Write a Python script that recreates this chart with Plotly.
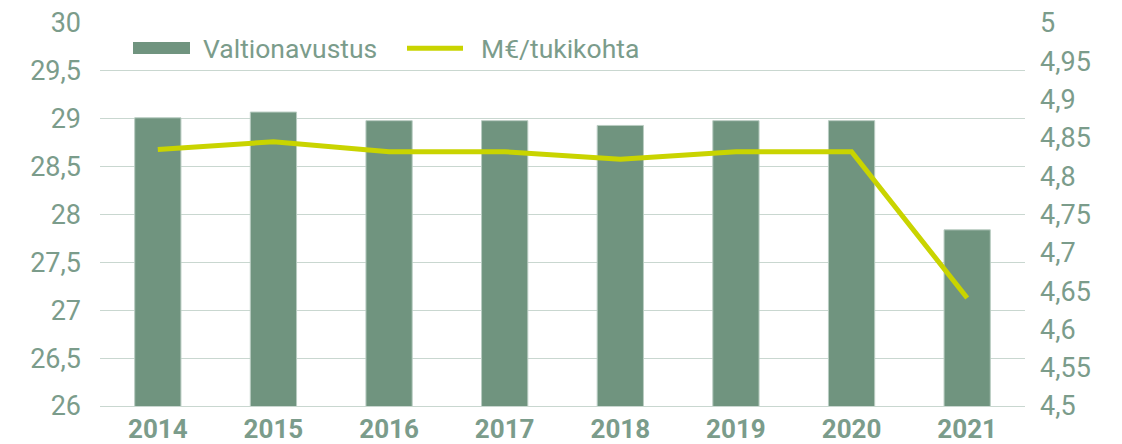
import plotly.graph_objects as go

years = ["2014", "2015", "2016", "2017", "2018", "2019", "2020", "2021"]
valtionavustus = [29.01, 29.07, 28.98, 28.98, 28.93, 28.98, 28.98, 27.84]
per_tukikohta = [4.835, 4.845, 4.832, 4.832, 4.822, 4.832, 4.832, 4.641]

left_ticks = [26, 26.5, 27, 27.5, 28, 28.5, 29, 29.5, 30]
left_labels = ["26", "26,5", "27", "27,5", "28", "28,5", "29", "29,5", "30"]
right_ticks = [4.5, 4.55, 4.6, 4.65, 4.7, 4.75, 4.8, 4.85, 4.9, 4.95, 5.0]
right_labels = ["4,5", "4,55", "4,6", "4,65", "4,7", "4,75", "4,8", "4,85", "4,9", "4,95", "5"]

bar_name = "Valtionavustus"
line_name = "M€/tukikohta"

W, H = 1122, 444
ML, MR, MT, MB = 100, 97, 23, 38
PW, PH = W - ML - MR, H - MT - MB

BAR_COLOR = "#70947F"
LINE_COLOR = "#C9D400"
TEXT_COLOR = "#7B9C8B"
GRID_COLOR = "#C9D7D0"
FONT = "Roboto"
TICK_SIZE = 27


def px_x(px):
    return (px - ML) / PW


def px_y(py):
    return (H - MB - py) / PH


fig = go.Figure()
fig.add_trace(go.Bar(
    x=years, y=valtionavustus, name=bar_name,
    marker=dict(color=BAR_COLOR, line=dict(color="#B9CCC2", width=1)),
    yaxis="y", showlegend=False,
))
fig.add_trace(go.Scatter(
    x=years, y=per_tukikohta, name=line_name, mode="lines",
    line=dict(color=LINE_COLOR, width=5),
    yaxis="y2", showlegend=False,
))

shapes = [
    dict(type="rect", xref="paper", yref="paper",
         x0=px_x(133), x1=px_x(190), y0=px_y(54), y1=px_y(42),
         fillcolor=BAR_COLOR, line=dict(width=0)),
    dict(type="line", xref="paper", yref="paper",
         x0=px_x(407), x1=px_x(463), y0=px_y(48.3), y1=px_y(48.3),
         line=dict(color=LINE_COLOR, width=5)),
]
annotations = [
    dict(text=bar_name, xref="paper", yref="paper", x=px_x(201), y=px_y(48),
         xanchor="left", yanchor="middle", showarrow=False,
         font=dict(family=FONT, size=26.5, color=TEXT_COLOR)),
    dict(text=line_name, xref="paper", yref="paper", x=px_x(479), y=px_y(48),
         xanchor="left", yanchor="middle", showarrow=False,
         font=dict(family=FONT, size=26.5, color=TEXT_COLOR)),
]

fig.update_layout(
    width=W, height=H,
    margin=dict(l=ML, r=MR, t=MT, b=MB, pad=0, autoexpand=False),
    paper_bgcolor="white", plot_bgcolor="white",
    bargap=0.6,
    font=dict(family=FONT, size=TICK_SIZE, color=TEXT_COLOR),
    shapes=shapes, annotations=annotations,
    xaxis=dict(
        type="category", showgrid=False, zeroline=False, automargin=False,
        showline=True, linecolor=GRID_COLOR, linewidth=1,
        ticks="", tickfont=dict(family=FONT, size=26, color=TEXT_COLOR, weight="bold"),
        ticklabelstandoff=0,
    ),
    yaxis=dict(
        range=[26, 30], tickvals=left_ticks, ticktext=left_labels, automargin=False,
        showgrid=True, gridcolor=GRID_COLOR, gridwidth=1, zeroline=False,
        showline=False, ticks="", ticklabelstandoff=18,
        tickfont=dict(family=FONT, size=TICK_SIZE, color=TEXT_COLOR),
    ),
    yaxis2=dict(
        range=[4.5, 5.0], tickvals=right_ticks, ticktext=right_labels, automargin=False,
        overlaying="y", side="right", showgrid=False, zeroline=False,
        showline=False, ticks="", ticklabelstandoff=14,
        tickfont=dict(family=FONT, size=TICK_SIZE, color=TEXT_COLOR),
    ),
)

fig.write_html("out.html")
